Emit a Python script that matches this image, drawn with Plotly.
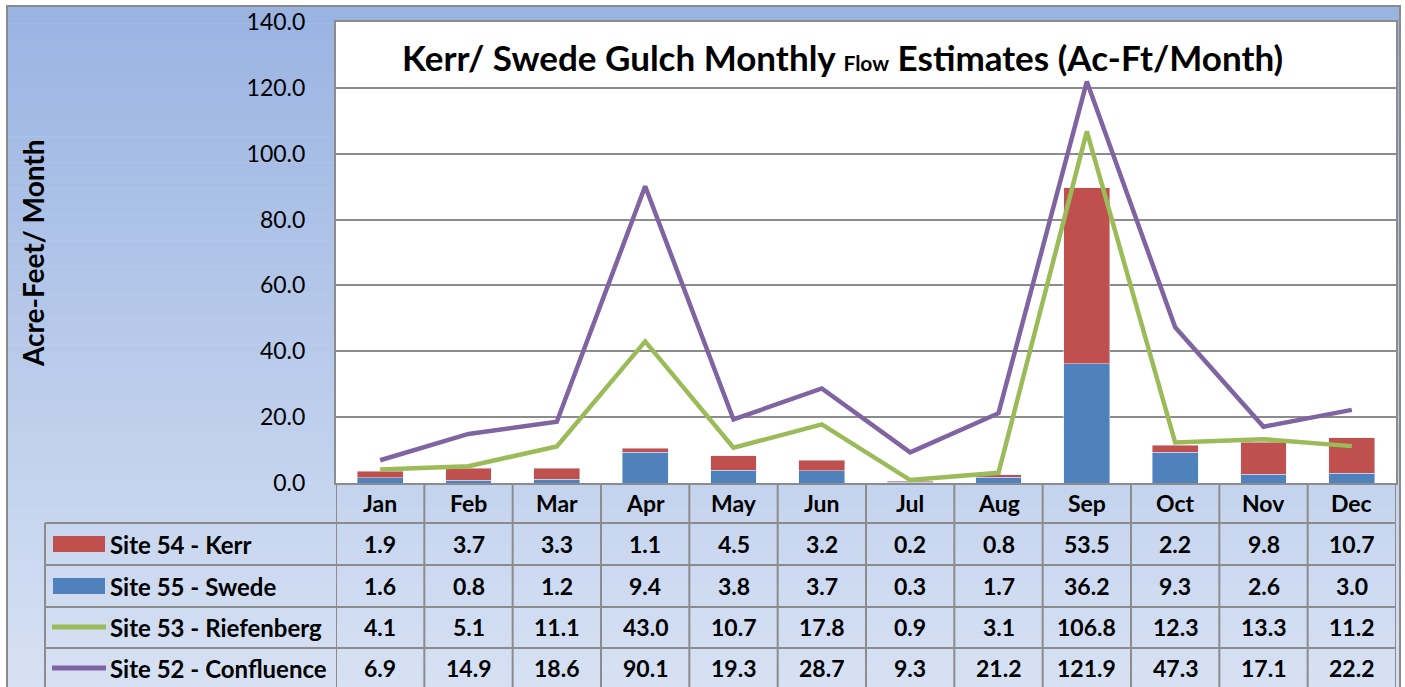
import plotly.graph_objects as go

months = ["Jan", "Feb", "Mar", "Apr", "May", "Jun", "Jul", "Aug", "Sep", "Oct", "Nov", "Dec"]
kerr = [1.9, 3.7, 3.3, 1.1, 4.5, 3.2, 0.2, 0.8, 53.5, 2.2, 9.8, 10.7]
swede = [1.6, 0.8, 1.2, 9.4, 3.8, 3.7, 0.3, 1.7, 36.2, 9.3, 2.6, 3.0]
riefenberg = [4.1, 5.1, 11.1, 43.0, 10.7, 17.8, 0.9, 3.1, 106.8, 12.3, 13.3, 11.2]
confluence = [6.9, 14.9, 18.6, 90.1, 19.3, 28.7, 9.3, 21.2, 121.9, 47.3, 17.1, 22.2]
y_ticks = [0, 20, 40, 60, 80, 100, 120, 140]

names = ["Site 54 - Kerr", "Site 55 - Swede", "Site 53 - Riefenberg", "Site 52 - Confluence"]
colors = ["#C0504D", "#4F81BD", "#9BBB59", "#8064A2"]
rows = [kerr, swede, riefenberg, confluence]

W, H = 1405, 687
def px(x): return x / W
def py(y): return 1 - y / H

PL, PR, PT, PB = 336, 1396, 22, 483
FONT = "Lato"
TFS = 23

fig = go.Figure()
fig.add_bar(x=months, y=swede, marker_color=colors[1], width=0.52, name=names[1])
fig.add_bar(x=months, y=kerr, marker_color=colors[0], width=0.52, name=names[0])
fig.add_scatter(x=months, y=riefenberg, mode="lines", line=dict(color=colors[2], width=4.5), name=names[2])
fig.add_scatter(x=months, y=confluence, mode="lines", line=dict(color=colors[3], width=4.5), name=names[3])

shapes = []
# gradient background
N = 80
top_c = (0x9A, 0xB4, 0xE2)
bot_c = (0xD8, 0xE2, 0xF4)
y0, y1 = 6, 700
for i in range(N):
    t = i / (N - 1)
    c = tuple(int(top_c[k] + (bot_c[k] - top_c[k]) * t) for k in range(3))
    ya = y0 + (y1 - y0) * i / N
    yb = y0 + (y1 - y0) * (i + 1) / N
    shapes.append(dict(type="rect", xref="paper", yref="paper", x0=px(7), x1=px(1400),
                       y0=py(yb + 0.5), y1=py(ya), fillcolor="rgb(%d,%d,%d)" % c,
                       line=dict(width=0), layer="below"))
# outer border
shapes.append(dict(type="rect", xref="paper", yref="paper", x0=px(7), x1=px(1400), y0=py(700), y1=py(6),
                   line=dict(color="#8A8A8A", width=2), fillcolor="rgba(0,0,0,0)", layer="below"))
# plot area white
shapes.append(dict(type="rect", xref="paper", yref="paper", x0=px(PL), x1=px(PR), y0=py(PB), y1=py(PT),
                   fillcolor="white", line=dict(width=0), layer="below"))

# table lines
grey = "#8C8C8C"
row_y = [523, 565, 607, 648, 690]
for yy in row_y:
    shapes.append(dict(type="line", xref="paper", yref="paper", x0=px(45), x1=px(PR), y0=py(yy), y1=py(yy),
                       line=dict(color=grey, width=2)))
shapes.append(dict(type="line", xref="paper", yref="paper", x0=px(45), x1=px(45), y0=py(523), y1=py(700),
                   line=dict(color=grey, width=2)))
for i in range(13):
    shapes.append(dict(type="line", xref="x", yref="paper", x0=i - 0.5, x1=i - 0.5, y0=py(PB), y1=py(700),
                       line=dict(color=grey, width=2)))

annotations = []
# month header
for i, m in enumerate(months):
    annotations.append(dict(x=m, xref="x", yref="paper", y=py(503), text="<b>%s</b>" % m, showarrow=False,
                            font=dict(family=FONT, size=TFS, color="black"), yanchor="middle"))
row_c = [544, 586, 627, 668]
for r, vals in enumerate(rows):
    for i, v in enumerate(vals):
        annotations.append(dict(x=months[i], xref="x", yref="paper", y=py(row_c[r]), text="<b>%.1f</b>" % v,
                                showarrow=False, font=dict(family=FONT, size=TFS, color="black"), yanchor="middle"))
    annotations.append(dict(x=px(108), xref="paper", yref="paper", y=py(row_c[r]), text="<b>%s</b>" % names[r],
                            xanchor="left", showarrow=False, font=dict(family=FONT, size=24, color="black"),
                            yanchor="middle"))
    if r < 2:
        shapes.append(dict(type="rect", xref="paper", yref="paper", x0=px(53), x1=px(105),
                           y0=py(row_c[r] + 8), y1=py(row_c[r] - 8), fillcolor=colors[r], line=dict(width=0)))
    else:
        shapes.append(dict(type="line", xref="paper", yref="paper", x0=px(52), x1=px(106),
                           y0=py(row_c[r]), y1=py(row_c[r]), line=dict(color=colors[r], width=5)))

# title
annotations.append(dict(x=px(842), y=py(57), xref="paper", yref="paper", showarrow=False,
                        text="<b>Kerr/ Swede Gulch Monthly <span style='font-size:21px'>Flow</span> Estimates (Ac-Ft/Month)</b>",
                        font=dict(family=FONT, size=35, color="black"), yanchor="middle"))
# y title
annotations.append(dict(x=px(33), y=py(253), xref="paper", yref="paper", showarrow=False, textangle=-90,
                        text="<b>Acre-Feet/ Month</b>", font=dict(family=FONT, size=28, color="black"),
                        yanchor="middle", xanchor="center"))

fig.update_layout(
    width=W, height=H, margin=dict(l=0, r=0, t=0, b=0, autoexpand=False),
    paper_bgcolor="white", plot_bgcolor="rgba(0,0,0,0)",
    barmode="stack", showlegend=False,
    shapes=shapes, annotations=annotations,
    xaxis=dict(domain=[px(PL), px(PR)], range=[-0.5, 11.5], showticklabels=False, showgrid=False,
               zeroline=False, showline=True, linecolor=grey, linewidth=2, mirror=True, fixedrange=True,
               automargin=False),
    yaxis=dict(domain=[py(PB), py(PT)], range=[0, 140], tickvals=y_ticks, tickformat=".1f",
               showgrid=True, gridcolor="#8C8C8C", gridwidth=1.5, zeroline=False,
               showline=True, linecolor=grey, linewidth=2, mirror=True, automargin=False,
               ticks="outside", ticklen=24, tickcolor="rgba(0,0,0,0)",
               tickfont=dict(family=FONT, size=23, color="black")),
)

fig.write_html("out.html", config={"displayModeBar": False},
               post_script="document.body.style.margin='0';document.body.style.overflow='hidden';")
